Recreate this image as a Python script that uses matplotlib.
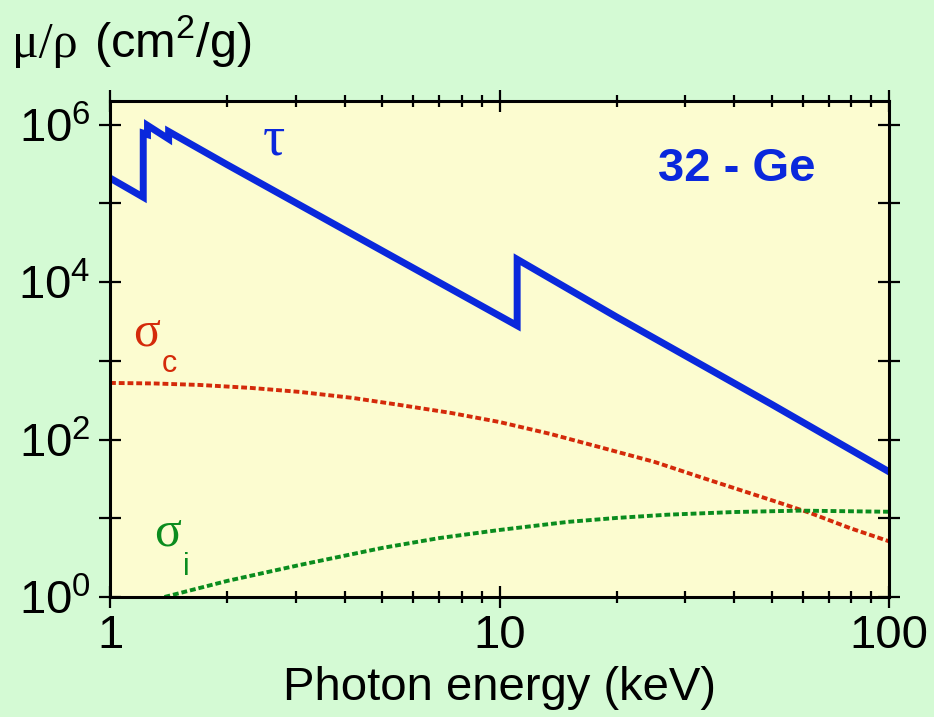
import math

import matplotlib
matplotlib.use("Agg")
import matplotlib.pyplot as plt
from matplotlib.ticker import FixedLocator, FuncFormatter, LogLocator, NullFormatter

# photoabsorption (tau), with the L3, L2, L1 and K edges
tau_energy = [1.0, 1.217, 1.217, 1.248, 1.248, 1.414, 1.414, 2.0, 5.0, 11.1, 11.1, 20.0, 50.0, 100.0]
tau_values = [2.1e5, 1.2e5, 7.8e5, 7.5e5, 9.8e5, 6.6e5, 8.2e5, 3.1e5, 2.5e4, 2.8e3, 1.95e4, 3.6e3, 2.8e2, 39]

# coherent scattering (sigma_c)
sc_energy = [1.0, 1.3, 1.7, 2.3, 3.07, 4.2, 5.55, 7.5, 10.0, 13.5, 18.1, 25.0, 33.3, 51.6, 62.7, 79.4, 100.0]
sc_values = [524, 516, 494, 453, 403, 338, 275, 218, 167, 118, 80, 52, 32.5, 16.1, 11.7, 7.5, 5.1]

# incoherent scattering (sigma_i)
si_energy = [1.38, 2.0, 3.07, 5.0, 7.0, 10.0, 15.0, 20.0, 27.0, 40.0, 59.0, 100.0]
si_values = [1.0, 1.6, 2.55, 4.2, 5.6, 7.1, 9.0, 10.1, 11.1, 12.0, 12.5, 12.1]

x_ticks = [1, 10, 100]
y_ticks = [1e0, 1e1, 1e2, 1e3, 1e4, 1e5, 1e6]

blue = "#0a28dc"
red = "#d42a0a"
green = "#0a8c1e"

plt.rcParams["font.family"] = ["Liberation Sans", "DejaVu Sans"]
plt.rcParams["mathtext.fontset"] = "custom"
plt.rcParams["mathtext.rm"] = "Liberation Sans"
plt.rcParams["mathtext.it"] = "Liberation Sans:italic"
plt.rcParams["mathtext.bf"] = "Liberation Sans:bold"

fig = plt.figure(figsize=(9.34, 7.17), dpi=100, facecolor="#d4fad4")
ax = fig.add_axes([0.1178, 0.1674, 0.834, 0.6917])
ax.set_facecolor("#fcfcd0")

ax.plot(tau_energy, tau_values, color=blue, lw=5, solid_joinstyle="miter")
ax.plot(sc_energy, sc_values, color=red, lw=2.8, linestyle=(0, (1.5, 0.75)))
ax.plot(si_energy, si_values, color=green, lw=2.8, linestyle=(0, (1.5, 0.75)))

ax.set_xscale("log")
ax.set_yscale("log")
ax.set_xlim(1, 100)
ax.set_ylim(1, 2.0e6)

ax.xaxis.set_major_locator(FixedLocator(x_ticks))
ax.xaxis.set_major_formatter(FuncFormatter(lambda v, p: "%d" % round(v)))
ax.xaxis.set_minor_locator(LogLocator(base=10, subs=range(2, 10)))
ax.xaxis.set_minor_formatter(NullFormatter())

ax.yaxis.set_major_locator(FixedLocator(y_ticks))
ax.yaxis.set_minor_locator(FixedLocator([]))


def ylab(v, p):
    e = int(round(math.log10(v)))
    if e % 2:
        return ""
    return r"$\mathdefault{10^{%d}}$" % e


ax.yaxis.set_major_formatter(FuncFormatter(ylab))

ax.tick_params(which="major", direction="inout", length=16, width=1.6,
               top=True, right=True, labelsize=34, color="black")
ax.tick_params(which="minor", direction="inout", length=9, width=1.6,
               top=True, right=True)
ax.tick_params(axis="x", which="major", pad=4)
ax.tick_params(axis="y", which="major", pad=6)
for s in ax.spines.values():
    s.set_linewidth(2.2)

# curve labels
ax.text(0.2105, 0.921, "\u03c4", transform=ax.transAxes, color=blue,
        fontsize=40, family="Liberation Serif", ha="center", va="center")
ax.text(0.0475, 0.532, "\u03c3", transform=ax.transAxes, color=red,
        fontsize=36, family="Liberation Serif", ha="center", va="center")
ax.text(0.0757, 0.47, "c", transform=ax.transAxes, color=red,
        fontsize=22, ha="center", va="center")
ax.text(0.0745, 0.129, "\u03c3", transform=ax.transAxes, color=green,
        fontsize=36, family="Liberation Serif", ha="center", va="center")
ax.text(0.0976, 0.06, "i", transform=ax.transAxes, color=green,
        fontsize=22, ha="center", va="center")
ax.text(0.805, 0.862, "32 - Ge", transform=ax.transAxes, color=blue,
        fontsize=34, fontweight="bold", ha="center", va="center")

# axis titles
fig.text(12 / 934, 1 - 57 / 717, "\u03bc/\u03c1", family="Liberation Serif",
         fontsize=36, ha="left", va="baseline")
fig.text(94 / 934, 1 - 57 / 717, r"(cm$^2$/g)", fontsize=35, ha="left", va="baseline")
fig.text(0.535, 1 - 700 / 717, "Photon energy (keV)", fontsize=34,
         ha="center", va="baseline")

fig.savefig("out.png", dpi=100, facecolor=fig.get_facecolor())
